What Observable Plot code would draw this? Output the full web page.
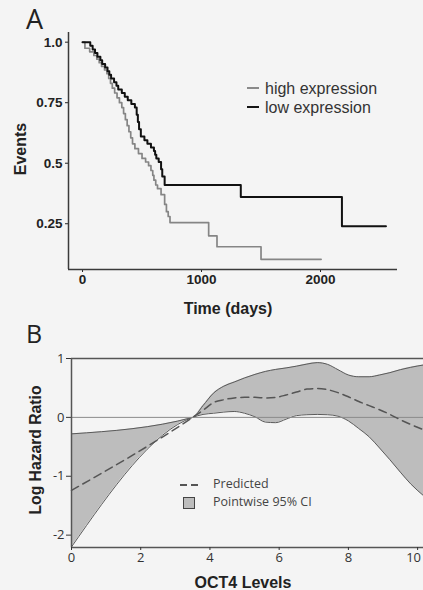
<!DOCTYPE html>
<html><head><meta charset="utf-8">
<script src="https://cdn.jsdelivr.net/npm/d3@7"></script>
<script src="https://cdn.jsdelivr.net/npm/@observablehq/plot@0.6"></script>
<style>
html,body{margin:0;padding:0;background:#f4f4f4;overflow:hidden;}
#wrap{position:relative;width:423px;height:590px;overflow:hidden;}
.abs{position:absolute;white-space:nowrap;line-height:1;}
.sans{font-family:"Liberation Sans",Arial,sans-serif;}
.myr{font-family:"Open Sans","Noto Sans",sans-serif;}
#plotA,#plotB{position:absolute;left:0;}
#plotA{top:0;} #plotB{top:330px;}
</style></head><body><div id="wrap">
<div id="plotA"></div><div id="plotB"></div>
<div class="abs myr" style="left:26px;top:5px;font-size:27px;color:#222;">A</div>
<div class="abs myr" style="left:26px;top:320.5px;font-size:25px;color:#222;">B</div>
<div class="abs sans" style="left:21px;top:149px;font-size:16px;font-weight:bold;color:#222;transform:translate(-50%,-50%) rotate(-90deg);">Events</div>
<div class="abs sans" style="left:228px;top:300.5px;font-size:16px;font-weight:bold;color:#222;transform:translateX(-50%);">Time (days)</div>
<div class="abs" style="left:247px;top:87px;width:12px;height:1.5px;background:#8a8a8a;"></div>
<div class="abs" style="left:247px;top:106px;width:12px;height:2px;background:#151515;"></div>
<div class="abs sans" style="left:265px;top:80.5px;font-size:16px;color:#333;">high expression</div>
<div class="abs sans" style="left:265px;top:99.5px;font-size:16px;color:#333;">low expression</div>
<div class="abs sans" style="left:36px;top:450px;font-size:15.7px;font-weight:bold;color:#222;transform:translate(-50%,-50%) rotate(-90deg);">Log Hazard Ratio</div>
<div class="abs sans" style="left:243px;top:574.5px;font-size:16px;font-weight:bold;color:#222;transform:translateX(-50%);">OCT4 Levels</div>
<div class="abs" style="left:180px;top:484.3px;width:7px;height:1.5px;background:#555;"></div>
<div class="abs" style="left:191px;top:484.3px;width:7px;height:1.5px;background:#555;"></div>
<div class="abs" style="left:183px;top:497px;width:10px;height:10px;background:#bdbdbd;border:1px solid #444;"></div>
<div class="abs myr" style="left:213px;top:478.4px;font-size:12.5px;color:#444;">Predicted</div>
<div class="abs myr" style="left:213px;top:496.4px;font-size:12.5px;color:#444;">Pointwise 95% CI</div>
</div>
<script>
// Panel A: Kaplan-Meier style step curves
const highTime = [0,20,60,95,120,140,160,185,205,220,235,250,270,290,310,330,345,360,375,390,405,420,440,470,500,530,555,575,590,600,615,630,660,690,705,720,735,1060,1130,1500,2005];
const highSurv = [1.0,0.975,0.96,0.945,0.93,0.915,0.9,0.885,0.87,0.85,0.83,0.81,0.79,0.77,0.75,0.73,0.705,0.68,0.655,0.63,0.605,0.58,0.56,0.54,0.52,0.505,0.49,0.47,0.45,0.43,0.41,0.395,0.37,0.33,0.30,0.28,0.255,0.20,0.155,0.103,0.103];
const lowTime = [0,65,85,105,125,150,165,190,210,225,240,265,285,300,330,355,380,410,440,455,465,475,490,520,545,575,600,610,620,640,660,670,690,1330,2180,2550];
const lowSurv = [1.0,0.985,0.97,0.955,0.94,0.925,0.91,0.895,0.88,0.865,0.85,0.835,0.82,0.805,0.79,0.775,0.76,0.745,0.73,0.70,0.67,0.64,0.61,0.595,0.58,0.565,0.55,0.535,0.52,0.505,0.475,0.445,0.41,0.36,0.24,0.24];
const kmXTicks = [0,1000,2000];
const kmYTicks = [0.25,0.5,0.75,1.0];
const kmYTickLabels = ["0.25","0.5","0.75","1.0"];

// Panel B: log hazard ratio vs OCT4 levels
const octX      = [0,3.5,3.8,4.1,4.4,4.7,5.0,5.3,5.6,5.9,6.2,6.5,6.8,7.1,7.4,7.7,8.0,8.3,8.6,8.9,9.2,9.5,9.8,10.17];
const ciUpper   = [-0.28,0,0.20,0.41,0.53,0.60,0.67,0.73,0.78,0.815,0.84,0.87,0.905,0.93,0.90,0.81,0.72,0.69,0.69,0.72,0.76,0.81,0.85,0.89];
const ciLower   = [-2.2,0,0.05,0.07,0.09,0.10,0.07,0.01,-0.08,-0.09,-0.03,0.03,0.045,0.05,0.045,0.02,-0.06,-0.19,-0.33,-0.52,-0.72,-0.93,-1.13,-1.33];
const predicted = [-1.24,0,0.12,0.25,0.30,0.33,0.34,0.34,0.33,0.34,0.38,0.43,0.48,0.49,0.47,0.42,0.35,0.27,0.20,0.13,0.05,-0.04,-0.12,-0.21];
const octXTicks = [0,2,4,6,8,10];
const octYTicks = [-2,-1,0,1];

const high = highTime.map((t,i)=>({t, s: highSurv[i]}));
const low = lowTime.map((t,i)=>({t, s: lowSurv[i]}));
const xA = [-118, 2647], yA = [0.061, 1.04];

const plotA = Plot.plot({
  width: 423, height: 300,
  marginLeft: 68, marginRight: 26, marginTop: 32, marginBottom: 31,
  style: {background: "transparent", fontFamily: "'Liberation Sans', Arial, sans-serif", fontSize: "13.5px", fontWeight: "bold", color: "#222", overflow: "visible"},
  x: {domain: xA, ticks: kmXTicks, tickFormat: d => String(d), tickSize: 3, tickPadding: 2, label: null},
  y: {domain: yA, ticks: kmYTicks, tickFormat: d => kmYTickLabels[kmYTicks.indexOf(d)], tickSize: 3, tickPadding: 3, label: null},
  marks: [
    Plot.ruleX([xA[0]], {stroke: "#3a3a3a", strokeWidth: 1.5}),
    Plot.ruleY([yA[0]], {stroke: "#3a3a3a", strokeWidth: 1.5}),
    Plot.line(high, {x: "t", y: "s", curve: "step-after", stroke: "#858585", strokeWidth: 1.7}),
    Plot.line(low, {x: "t", y: "s", curve: "step-after", stroke: "#111", strokeWidth: 2})
  ]
});
document.getElementById("plotA").appendChild(plotA);

const oct = octX.map((x,i)=>({x, lo: ciLower[i], hi: ciUpper[i], p: predicted[i]}));
const xB = [0, 10.17], yB = [-2.21, 1.0];
const lastTick = octXTicks[octXTicks.length - 1];
const plotB = Plot.plot({
  width: 423, height: 260,
  marginLeft: 71, marginRight: 0, marginTop: 28, marginBottom: 43,
  style: {background: "transparent", fontFamily: "'Open Sans', 'Noto Sans', sans-serif", fontSize: "13px", color: "#333", overflow: "visible"},
  x: {domain: xB, label: null},
  y: {domain: yB, ticks: octYTicks, tickFormat: d => String(d), tickSize: 5, tickPadding: 2, label: null},
  marks: [
    Plot.areaY(oct, {x: "x", y1: "lo", y2: "hi", fill: "#bdbdbd", curve: "monotone-x"}),
    Plot.line(oct, {x: "x", y: "hi", stroke: "#5a5a5a", strokeWidth: 1, curve: "monotone-x"}),
    Plot.line(oct, {x: "x", y: "lo", stroke: "#5a5a5a", strokeWidth: 1, curve: "monotone-x"}),
    Plot.ruleY([0], {stroke: "#8a8a8a", strokeWidth: 1}),
    Plot.line(oct, {x: "x", y: "p", stroke: "#555", strokeWidth: 1.5, strokeDasharray: "8,5", curve: "monotone-x"}),
    Plot.ruleY([yB[1]], {stroke: "#555", strokeWidth: 1.5}),
    Plot.ruleY([yB[0]], {stroke: "#555", strokeWidth: 1.5}),
    Plot.ruleX([xB[0]], {stroke: "#555", strokeWidth: 1.5}),
    Plot.axisX(octXTicks, {tickSize: 3, tickPadding: 2, tickFormat: d => d === lastTick ? "" : String(d)}),
    Plot.axisX([lastTick], {tickSize: 0, tickPadding: 5, dx: -4, tickFormat: d => String(d)})
  ]
});
document.getElementById("plotB").appendChild(plotB);
</script>
</body></html>
